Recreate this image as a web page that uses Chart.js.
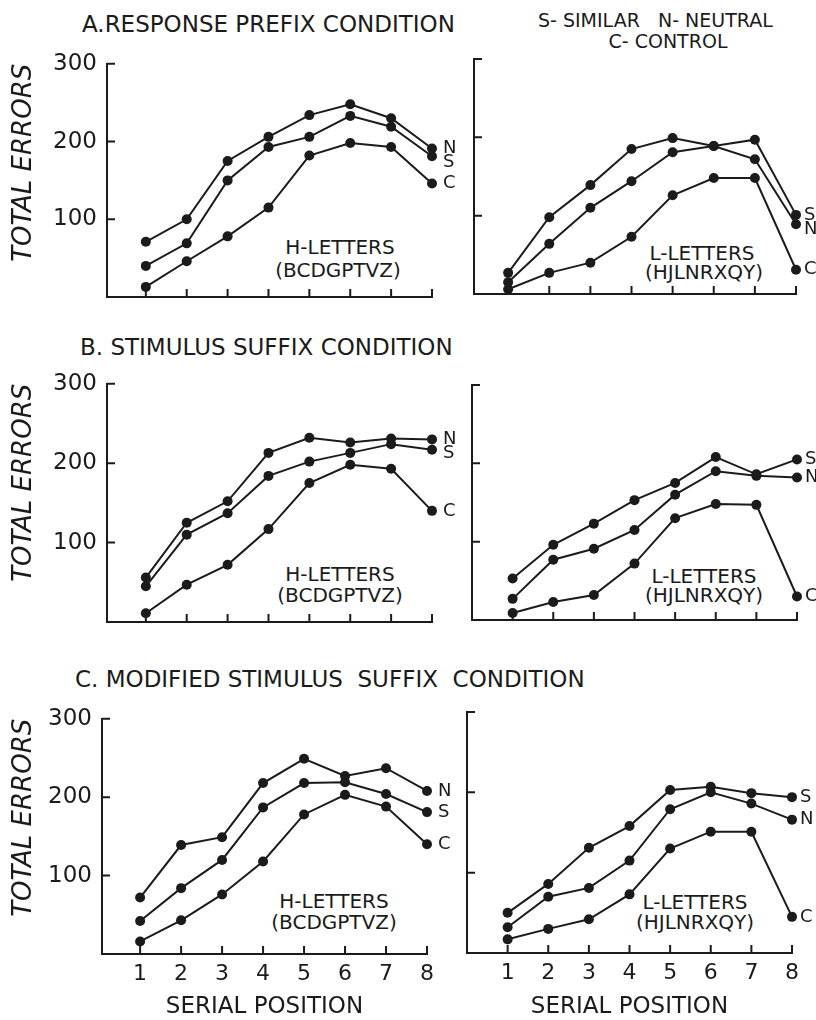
<!DOCTYPE html>
<html>
<head>
<meta charset="utf-8">
<script src="https://cdn.jsdelivr.net/npm/chart.js@4.4.1/dist/chart.umd.min.js"></script>
<style>
  body { margin: 0; width: 816px; height: 1020px; position: relative; overflow: hidden;
         background: #fff; color: #1b1b1b; font-family: "DejaVu Sans", sans-serif; }
  canvas { position: absolute; }
  .t { position: absolute; white-space: pre; line-height: 1; }
  .c { transform: translateX(-50%); }
</style>
</head>
<body>

<!-- titles and notes -->
<div class="t" style="left:82px;top:13px;font-size:23px">A.RESPONSE PREFIX CONDITION</div>
<div class="t" style="left:80px;top:336px;font-size:23px">B. STIMULUS SUFFIX CONDITION</div>
<div class="t" style="left:75px;top:668px;font-size:23px">C. MODIFIED STIMULUS  SUFFIX  CONDITION</div>
<div class="t" style="left:538px;top:11px;font-size:19px">S- SIMILAR   N- NEUTRAL</div>
<div class="t c" style="left:668px;top:32px;font-size:19px">C- CONTROL</div>

<div class="t c" style="left:340px;top:237px;font-size:20px">H-LETTERS</div>
<div class="t c" style="left:338px;top:260px;font-size:20px">(BCDGPTVZ)</div>
<div class="t c" style="left:702px;top:243px;font-size:20px">L-LETTERS</div>
<div class="t c" style="left:704px;top:262px;font-size:20px">(HJLNRXQY)</div>
<div class="t c" style="left:340px;top:564px;font-size:20px">H-LETTERS</div>
<div class="t c" style="left:340px;top:585px;font-size:20px">(BCDGPTVZ)</div>
<div class="t c" style="left:704px;top:566px;font-size:20px">L-LETTERS</div>
<div class="t c" style="left:704px;top:585px;font-size:20px">(HJLNRXQY)</div>
<div class="t c" style="left:334px;top:891px;font-size:20px">H-LETTERS</div>
<div class="t c" style="left:334px;top:912px;font-size:20px">(BCDGPTVZ)</div>
<div class="t c" style="left:695px;top:892px;font-size:20px">L-LETTERS</div>
<div class="t c" style="left:695px;top:912px;font-size:20px">(HJLNRXQY)</div>

<script>
/* ── data ── */
const positions = [1, 2, 3, 4, 5, 6, 7, 8];
const yTicks = [100, 200, 300];

// A. response prefix
const prefixH_N = [71, 100, 175, 206, 234, 248, 230, 191];
const prefixH_S = [40, 69, 150, 193, 206, 233, 219, 181];
const prefixH_C = [13, 46, 78, 115, 182, 198, 193, 146];
const prefixL_N = [27, 98, 139, 185, 199, 189, 172, 89];
const prefixL_S = [15, 64, 110, 144, 181, 189, 197, 101];
const prefixL_C = [6, 27, 40, 73, 126, 148, 148, 31];

// B. stimulus suffix
const suffixH_N = [56, 125, 152, 213, 232, 226, 231, 230];
const suffixH_S = [45, 110, 137, 184, 202, 213, 224, 217];
const suffixH_C = [11, 47, 72, 117, 175, 198, 193, 140];
const suffixL_S = [53, 96, 123, 153, 175, 208, 186, 205];
const suffixL_N = [27, 77, 91, 115, 160, 190, 184, 182];
const suffixL_C = [9, 23, 32, 72, 130, 148, 147, 30];

// C. modified stimulus suffix
const modH_N = [72, 139, 149, 218, 249, 227, 237, 208];
const modH_S = [42, 84, 120, 187, 218, 219, 204, 181];
const modH_C = [16, 43, 76, 118, 178, 203, 188, 140];
const modL_S = [50, 86, 131, 158, 203, 207, 199, 194];
const modL_N = [32, 70, 81, 115, 179, 200, 186, 166];
const modL_C = [17, 30, 42, 73, 130, 151, 151, 45];

const INK = '#1b1b1b';
const FONT = '"DejaVu Sans", sans-serif';

/* ── small tick marks pointing into the plot ── */
const innerTicks = {
  id: 'innerTicks',
  afterDraw(chart) {
    const { ctx, chartArea: a, scales: { x, y } } = chart;
    ctx.save();
    ctx.strokeStyle = INK;
    ctx.lineWidth = 2;
    ctx.beginPath();
    x.ticks.forEach(t => {
      const px = x.getPixelForValue(t.value);
      ctx.moveTo(px, a.bottom); ctx.lineTo(px, a.bottom - 8);
    });
    y.ticks.forEach(t => {
      const py = y.getPixelForValue(t.value);
      ctx.moveTo(a.left, py); ctx.lineTo(a.left + 8, py);
    });
    ctx.stroke();
    ctx.restore();
  }
};

/* ── N / S / C letters after the last point ── */
const endLabels = {
  id: 'endLabels',
  afterDatasetsDraw(chart, args, opts) {
    const ctx = chart.ctx;
    const items = chart.data.datasets.map((d, i) => {
      const pts = chart.getDatasetMeta(i).data;
      const p = pts[pts.length - 1];
      return { text: d.label, x: p.x, y: p.y };
    }).sort((a, b) => a.y - b.y);
    let prev = -1e9;
    items.forEach(it => { it.ly = Math.max(it.y, prev + 14); prev = it.ly; });
    ctx.save();
    ctx.font = '18px ' + FONT;
    ctx.fillStyle = INK;
    ctx.textAlign = 'left';
    ctx.textBaseline = 'middle';
    items.forEach(it => ctx.fillText(it.text, it.x + opts.gap, it.ly));
    ctx.restore();
  }
};

/* ── panel layout ── */
const panels = [
  { series: { N: prefixH_N, S: prefixH_S, C: prefixH_C }, left: 0,   top: 40,  w: 462, h: 290, yw: 107, padTop: 17, padRight: 30, xh: 33, xMin: 0.05, axisLabels: true,  bottom: false, gap: 11 },
  { series: { N: prefixL_N, S: prefixL_S, C: prefixL_C }, left: 440, top: 40,  w: 376, h: 290, yw: 34,  padTop: 19, padRight: 20, xh: 36, xMin: 0.17, axisLabels: false, bottom: false, gap: 8 },
  { series: { N: suffixH_N, S: suffixH_S, C: suffixH_C }, left: 0,   top: 360, w: 462, h: 290, yw: 107, padTop: 22, padRight: 30, xh: 28, xMin: 0.05, axisLabels: true,  bottom: false, gap: 11 },
  { series: { N: suffixL_N, S: suffixL_S, C: suffixL_C }, left: 440, top: 360, w: 376, h: 290, yw: 32,  padTop: 25, padRight: 19, xh: 30, xMin: 0,    axisLabels: false, bottom: false, gap: 8 },
  { series: { N: modH_N, S: modH_S, C: modH_C },          left: 0,   top: 695, w: 462, h: 325, yw: 102, padTop: 17, padRight: 35, xh: 66, xMin: 0.07, axisLabels: true,  bottom: true,  gap: 11 },
  { series: { N: modL_N, S: modL_S, C: modL_C },          left: 440, top: 695, w: 376, h: 325, yw: 27,  padTop: 17, padRight: 24, xh: 67, xMin: 0,    axisLabels: false, bottom: true,  gap: 8 }
];

function makeChart(p) {
  const cv = document.createElement('canvas');
  cv.width = p.w; cv.height = p.h;
  cv.style.left = p.left + 'px'; cv.style.top = p.top + 'px';
  cv.style.width = p.w + 'px'; cv.style.height = p.h + 'px';
  document.body.appendChild(cv);

  const datasets = Object.keys(p.series).map(name => ({
    label: name,
    data: positions.map((x, j) => ({ x: x, y: p.series[name][j] })),
    borderColor: INK,
    backgroundColor: INK,
    borderWidth: 2,
    pointRadius: 5,
    pointBorderWidth: 0,
    pointBackgroundColor: INK,
    tension: 0,
    clip: false
  }));

  new Chart(cv, {
    type: 'line',
    data: { datasets },
    options: {
      responsive: false,
      animation: false,
      events: [],
      layout: { padding: { top: p.padTop, right: p.padRight, left: 0, bottom: 0 } },
      plugins: {
        legend: { display: false },
        tooltip: { enabled: false },
        endLabels: { gap: p.gap }
      },
      scales: {
        x: {
          type: 'linear',
          min: p.xMin,
          max: 8,
          afterBuildTicks: s => { s.ticks = positions.map(v => ({ value: v })); },
          afterFit: s => { s.height = p.xh; },
          grid: { display: false, drawTicks: false },
          border: { display: true, color: INK, width: 2 },
          ticks: { display: p.bottom, color: INK, padding: 7, maxRotation: 0, autoSkip: false,
                   font: { family: FONT, size: 22 } },
          title: { display: p.bottom, text: 'SERIAL POSITION', color: INK,
                   font: { family: FONT, size: 23, lineHeight: 1 }, padding: { top: 0, bottom: 1 } }
        },
        y: {
          min: 0,
          max: 300,
          afterBuildTicks: s => { s.ticks = yTicks.map(v => ({ value: v })); },
          afterFit: s => { s.width = p.yw; },
          grid: { display: false, drawTicks: false },
          border: { display: true, color: INK, width: 2 },
          ticks: { display: p.axisLabels, color: INK, padding: 10,
                   font: { family: FONT, size: 23 } },
          title: { display: p.axisLabels, text: 'TOTAL ERRORS', align: 'end', color: INK,
                   font: { family: FONT, size: 26, style: 'italic', lineHeight: 1 },
                   padding: { top: 11, bottom: 0 } }
        }
      }
    },
    plugins: [innerTicks, endLabels]
  });
}

panels.forEach(makeChart);
</script>
</body>
</html>
